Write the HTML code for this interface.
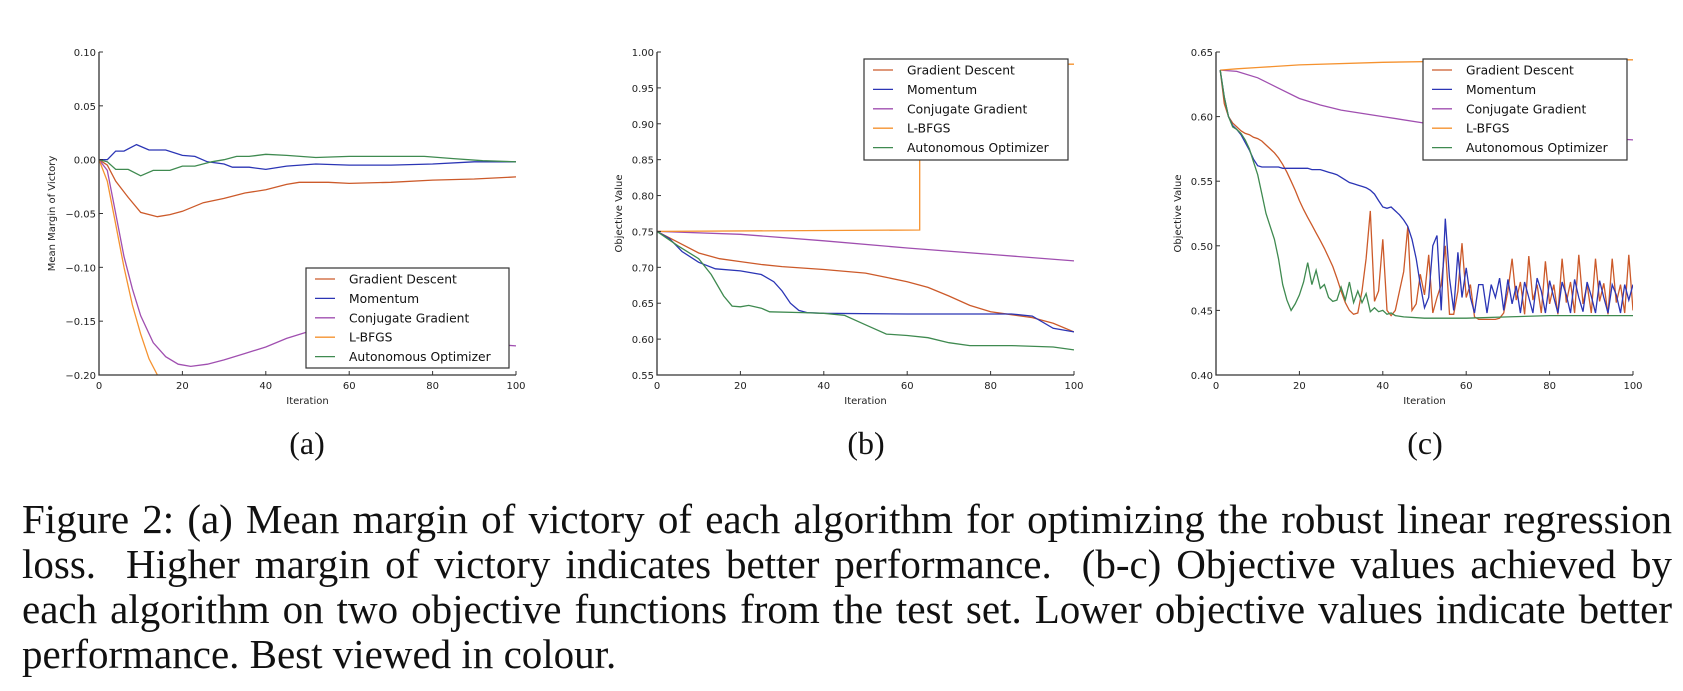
<!DOCTYPE html>
<html><head><meta charset="utf-8">
<style>
html,body{margin:0;padding:0;background:#fff;}
body{width:1683px;height:691px;position:relative;overflow:hidden;}
#fig{position:absolute;left:0;top:0;}
.sub{position:absolute;font-family:"Liberation Serif",serif;font-size:32px;color:#111;transform:translateX(-50%);top:425px;}
.cap{position:absolute;left:22px;width:1650px;font-family:"Liberation Serif",serif;font-size:41px;line-height:45px;color:#111;}
.cap div{text-align:justify;text-align-last:justify;white-space:nowrap;}
.cap div.last{text-align-last:left;}
</style></head><body>
<svg id="fig" width="1683" height="420"></svg>
<div class="sub" style="left:307px">(a)</div>
<div class="sub" style="left:866px">(b)</div>
<div class="sub" style="left:1425px">(c)</div>
<div class="cap" style="top:497px">
<div>Figure 2: (a) Mean margin of victory of each algorithm for optimizing the robust linear regression</div>
<div>loss.&nbsp; Higher margin of victory indicates better performance.&nbsp; (b-c) Objective values achieved by</div>
<div>each algorithm on two objective functions from the test set. Lower objective values indicate better</div>
<div class="last">performance. Best viewed in colour.</div>
</div>
<script>
// ---- data ----
const legendNames = ["Gradient Descent","Momentum","Conjugate Gradient","L-BFGS","Autonomous Optimizer"];
const xTicks = [0,20,40,60,80,100];
const aYTicks = [-0.20,-0.15,-0.10,-0.05,0.00,0.05,0.10];
const bYTicks = [0.55,0.60,0.65,0.70,0.75,0.80,0.85,0.90,0.95,1.00];
const cYTicks = [0.40,0.45,0.50,0.55,0.60,0.65];

// chart (a)
const aGD_x = [0,2,4,7,10,14,17,20,25,30,35,40,45,48,55,60,70,80,90,100];
const aGD_y = [0,-0.005,-0.02,-0.035,-0.049,-0.053,-0.051,-0.048,-0.04,-0.036,-0.031,-0.028,-0.023,-0.021,-0.021,-0.022,-0.021,-0.019,-0.018,-0.016];
const aMom_x = [0,2,4,6,9,12,16,20,23,26,30,32,36,40,45,52,60,70,80,90,100];
const aMom_y = [0,0,0.008,0.008,0.014,0.009,0.009,0.004,0.003,-0.002,-0.004,-0.007,-0.007,-0.009,-0.006,-0.004,-0.005,-0.005,-0.004,-0.002,-0.002];
const aCG_x = [0,2,4,6,8,10,13,16,19,22,26,30,35,40,45,50,55,65,80,90,100];
const aCG_y = [0,-0.01,-0.05,-0.09,-0.12,-0.145,-0.17,-0.183,-0.19,-0.192,-0.19,-0.186,-0.18,-0.174,-0.166,-0.16,-0.157,-0.158,-0.165,-0.17,-0.173];
const aLB_x = [0,2,4,6,8,10,12,14,16];
const aLB_y = [0,-0.02,-0.06,-0.1,-0.135,-0.162,-0.185,-0.2,-0.215];
const aAO_x = [0,2,4,7,10,13,17,20,23,27,30,33,36,40,45,52,60,70,78,85,92,100];
const aAO_y = [0,-0.002,-0.009,-0.009,-0.015,-0.01,-0.01,-0.006,-0.006,-0.002,0,0.003,0.003,0.005,0.004,0.002,0.003,0.003,0.003,0.001,-0.001,-0.002];

// chart (b)
const bGD_x = [0,5,10,15,20,25,30,40,50,55,60,65,70,75,80,85,90,95,100];
const bGD_y = [0.75,0.735,0.72,0.712,0.708,0.704,0.701,0.697,0.692,0.686,0.68,0.672,0.66,0.647,0.638,0.634,0.63,0.622,0.61];
const bMom_x = [0,3,6,10,14,20,25,28,30,32,34,36,40,60,85,90,95,100];
const bMom_y = [0.75,0.74,0.722,0.707,0.698,0.695,0.69,0.68,0.667,0.65,0.64,0.637,0.636,0.635,0.635,0.632,0.615,0.61];
const bCG_x = [0,20,40,60,80,100];
const bCG_y = [0.75,0.746,0.737,0.727,0.718,0.709];
const bLB_x = [0,63,63,100];
const bLB_y = [0.75,0.752,0.983,0.983];
const bAO_x = [0,5,10,13,16,18,20,22,25,27,35,40,45,50,55,60,65,70,75,85,95,100];
const bAO_y = [0.75,0.73,0.712,0.69,0.66,0.646,0.645,0.647,0.643,0.638,0.637,0.636,0.633,0.62,0.607,0.605,0.602,0.595,0.591,0.591,0.589,0.585];

// chart (c)
const cGD_y = [0.636,0.61,0.6,0.595,0.592,0.589,0.587,0.586,0.584,0.583,0.581,0.578,0.575,0.572,0.568,0.563,0.557,0.55,0.543,0.535,
0.528,0.522,0.516,0.51,0.504,0.498,0.491,0.484,0.475,0.465,0.456,0.45,0.447,0.448,0.465,0.49,0.527,0.457,0.465,0.505,
0.45,0.446,0.45,0.465,0.48,0.515,0.45,0.455,0.478,0.462,0.493,0.448,0.46,0.47,0.5,0.447,0.447,0.465,0.502,0.46,
0.47,0.445,0.443,0.443,0.443,0.443,0.443,0.444,0.448,0.465,0.49,0.458,0.472,0.447,0.492,0.458,0.47,0.448,0.488,0.455,
0.47,0.447,0.49,0.456,0.472,0.448,0.493,0.455,0.47,0.448,0.49,0.457,0.471,0.447,0.49,0.456,0.47,0.448,0.493,0.45];
const cMom_y = [0.636,0.615,0.6,0.593,0.59,0.586,0.58,0.574,0.567,0.562,0.561,0.561,0.561,0.561,0.561,0.56,0.56,0.56,0.56,0.56,
0.56,0.56,0.559,0.559,0.559,0.558,0.557,0.556,0.555,0.553,0.551,0.549,0.548,0.547,0.546,0.545,0.543,0.54,0.535,0.53,
0.529,0.53,0.527,0.524,0.52,0.515,0.505,0.49,0.47,0.452,0.46,0.5,0.508,0.45,0.521,0.475,0.45,0.495,0.46,0.483,
0.46,0.448,0.47,0.47,0.448,0.47,0.46,0.475,0.45,0.474,0.455,0.469,0.448,0.472,0.46,0.448,0.475,0.465,0.448,0.473,
0.46,0.448,0.472,0.462,0.448,0.474,0.46,0.449,0.472,0.461,0.448,0.473,0.46,0.448,0.47,0.462,0.448,0.47,0.458,0.47];
const cCG_x = [1,5,10,15,20,25,30,40,50,60,70,80,90,100];
const cCG_y = [0.636,0.635,0.63,0.622,0.614,0.609,0.605,0.6,0.595,0.591,0.588,0.586,0.584,0.582];
const cLB_x = [1,5,10,20,40,60,80,100];
const cLB_y = [0.636,0.637,0.638,0.64,0.642,0.643,0.644,0.644];
const cAO_x = [1,2,3,4,5,6,7,8,9,10,11,12,13,14,15,16,17,18,19,20,21,22,23,24,25,26,27,28,29,30,31,32,33,34,35,36,37,38,39,40,41,42,43,45,50,60,70,80,90,100];
const cAO_y = [0.636,0.615,0.6,0.592,0.59,0.587,0.582,0.575,0.565,0.555,0.54,0.525,0.515,0.505,0.49,0.47,0.458,0.45,0.455,0.462,0.472,0.487,0.47,0.481,0.467,0.47,0.46,0.457,0.458,0.468,0.458,0.472,0.456,0.465,0.456,0.463,0.449,0.452,0.449,0.45,0.447,0.448,0.446,0.445,0.444,0.444,0.445,0.446,0.446,0.446];

const colors = ["#cc5a2a","#2b35b5","#a04fb0","#f5922f","#3f8a50"];
const NS = "http://www.w3.org/2000/svg";
const svg = document.getElementById('fig');
function mk(tag, attrs, parent){const e=document.createElementNS(NS,tag);for(const k in attrs)e.setAttribute(k,attrs[k]);(parent||svg).appendChild(e);return e;}
function idx(arr){return arr.map((_,i)=>i+1);}

const charts = [
 {id:"a",L:99,R:516,T:52,B:375,ymin:-0.2,ymax:0.1,yt:aYTicks,ylab:"Mean Margin of Victory",ylx:52,
  series:[[aGD_x,aGD_y],[aMom_x,aMom_y],[aCG_x,aCG_y],[aLB_x,aLB_y],[aAO_x,aAO_y]],
  leg:{x:306,y:268,w:203,h:100}},
 {id:"b",L:657,R:1074,T:52,B:375,ymin:0.55,ymax:1.0,yt:bYTicks,ylab:"Objective Value",ylx:619,
  series:[[bGD_x,bGD_y],[bMom_x,bMom_y],[bCG_x,bCG_y],[bLB_x,bLB_y],[bAO_x,bAO_y]],
  leg:{x:864,y:59,w:204,h:101}},
 {id:"c",L:1216,R:1633,T:52,B:375,ymin:0.4,ymax:0.65,yt:cYTicks,ylab:"Objective Value",ylx:1178,
  series:[[idx(cGD_y),cGD_y],[idx(cMom_y),cMom_y],[cCG_x,cCG_y],[cLB_x,cLB_y],[cAO_x,cAO_y]],
  leg:{x:1423,y:59,w:204,h:101}}
];

charts.forEach(c=>{
  const g = mk('g',{});
  
  
  const X = v => c.L + (v-0)/(100-0)*(c.R-c.L);
  const Y = v => c.B - (v-c.ymin)/(c.ymax-c.ymin)*(c.B-c.T);
  const clip = mk('clipPath',{id:'clip'+c.id},g);
  mk('rect',{x:c.L,y:c.T,width:c.R-c.L,height:c.B-c.T},clip);
  c.series.forEach((s,i)=>{
    const d = s[0].map((x,j)=>(j?'L':'M')+X(x).toFixed(1)+','+Y(s[1][j]).toFixed(1)).join(' ');
    const p = mk('path',{d:d,fill:'none',stroke:colors[i],'stroke-width':1.3,'clip-path':'url(#clip'+c.id+')'},g);
    
    
  });
  const ax = mk('path',{d:`M${c.L},${c.T} L${c.L},${c.B} L${c.R},${c.B}`,fill:'none',stroke:'#333','stroke-width':1.3},g);
  
  
  xTicks.forEach(t=>{
    const x=X(t);
    mk('line',{x1:x,x2:x,y1:c.B,y2:c.B-4,stroke:'#333','stroke-width':1},g);
    const tx=mk('text',{x:x,y:c.B+14,'font-family':'DejaVu Sans, Liberation Sans, sans-serif','font-size':10,'text-anchor':'middle',fill:'#222'},g);
    tx.textContent=t;
    
    
  });
  c.yt.forEach(t=>{
    const y=Y(t);
    mk('line',{x1:c.L,x2:c.L+4,y1:y,y2:y,stroke:'#333','stroke-width':1},g);
    const tx=mk('text',{x:c.L-3,y:y+4,'font-family':'DejaVu Sans, Liberation Sans, sans-serif','font-size':10,'text-anchor':'end',fill:'#222'},g);
    tx.textContent=(t<0?'\u2212':'')+Math.abs(t).toFixed(2);
    
    
  });
  const xl=mk('text',{x:(c.L+c.R)/2,y:c.B+29,'font-family':'DejaVu Sans, Liberation Sans, sans-serif','font-size':10,'text-anchor':'middle',fill:'#222'},g);
  xl.textContent='Iteration';
  
  
  const yc=(c.T+c.B)/2;
  const yl=mk('text',{x:c.ylx,y:yc,transform:`rotate(-90 ${c.ylx} ${yc})`,'font-family':'DejaVu Sans, Liberation Sans, sans-serif','font-size':10,'text-anchor':'middle','dominant-baseline':'middle',fill:'#222'},g);
  yl.textContent=c.ylab;
  
  
  const lg=mk('g',{},g);
  
  
  mk('rect',{x:c.leg.x,y:c.leg.y,width:c.leg.w,height:c.leg.h,fill:'#fff',stroke:'#333','stroke-width':1.2},lg);
  legendNames.forEach((n,i)=>{
    const y=c.leg.y+11+i*19.4;
    const e=mk('g',{},lg);
    
    
    mk('line',{x1:c.leg.x+9,x2:c.leg.x+29,y1:y,y2:y,stroke:colors[i],'stroke-width':1.3},e);
    const t=mk('text',{x:c.leg.x+43,y:y+4.5,'font-family':'DejaVu Sans, Liberation Sans, sans-serif','font-size':12.3,fill:'#111'},e);
    t.textContent=n;
  });
});
</script>
</body></html>
